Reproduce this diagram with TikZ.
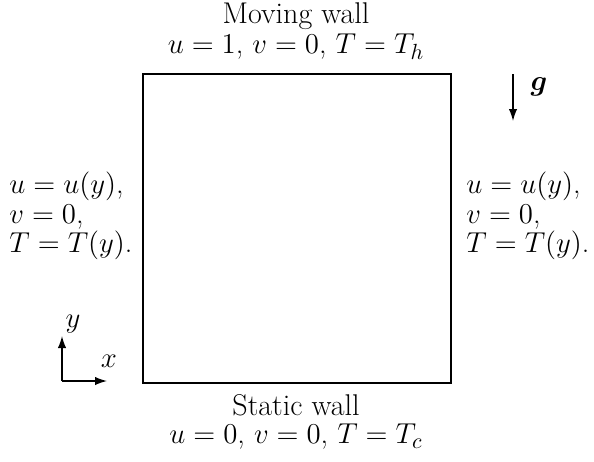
\documentclass[tikz,border=0pt]{standalone}
\usepackage{bm}
\usetikzlibrary{arrows.meta}
\begin{document}
\begin{tikzpicture}[x=0.5pt,y=-0.5pt,
  txt/.style={inner sep=0pt,font=\fontsize{15}{14.8}\selectfont},
  blk/.style={txt,align=left,anchor=west},
  arr/.style={line width=0.7pt,-{Latex[length=6pt,width=4.2pt]}}]
\useasboundingbox (0,0) rectangle (594,461);
\node[draw,line width=0.8pt,minimum width=154pt,minimum height=154.5pt,inner sep=0pt,anchor=north west] (box) at (142,73) {};
\node[txt] (mw) at (296,16) {Moving wall};
\node[txt] (top) at (296,47) {$u=1$, $v=0$, $T=T_h$};
\node[txt] (sw) at (296,405) {Static wall};
\node[txt] (bot) at (296,437) {$u=0$, $v=0$, $T=T_c$};
\node[blk] (left) at (9,216) {$u=u(y)$,\\$v=0$,\\$T=T(y)$.};
\node[blk] (right) at (466,216) {$u=u(y)$,\\$v=0$,\\$T=T(y)$.};
\coordinate (g1) at (513,74);
\coordinate (g2) at (513,121);
\draw[arr] (g1) -- (g2);
\node[txt] (g) at (539,87) {$\bm{g}$};
\coordinate (o) at (62,381);
\coordinate (ya) at (62,336);
\coordinate (xa) at (107,381);
\draw[arr] (o) -- (ya);
\draw[arr] (o) -- (xa);
\node[txt] (ylab) at (73,324) {$y$};
\node[txt] (xlab) at (109,361) {$x$};
\end{tikzpicture}
\end{document}
